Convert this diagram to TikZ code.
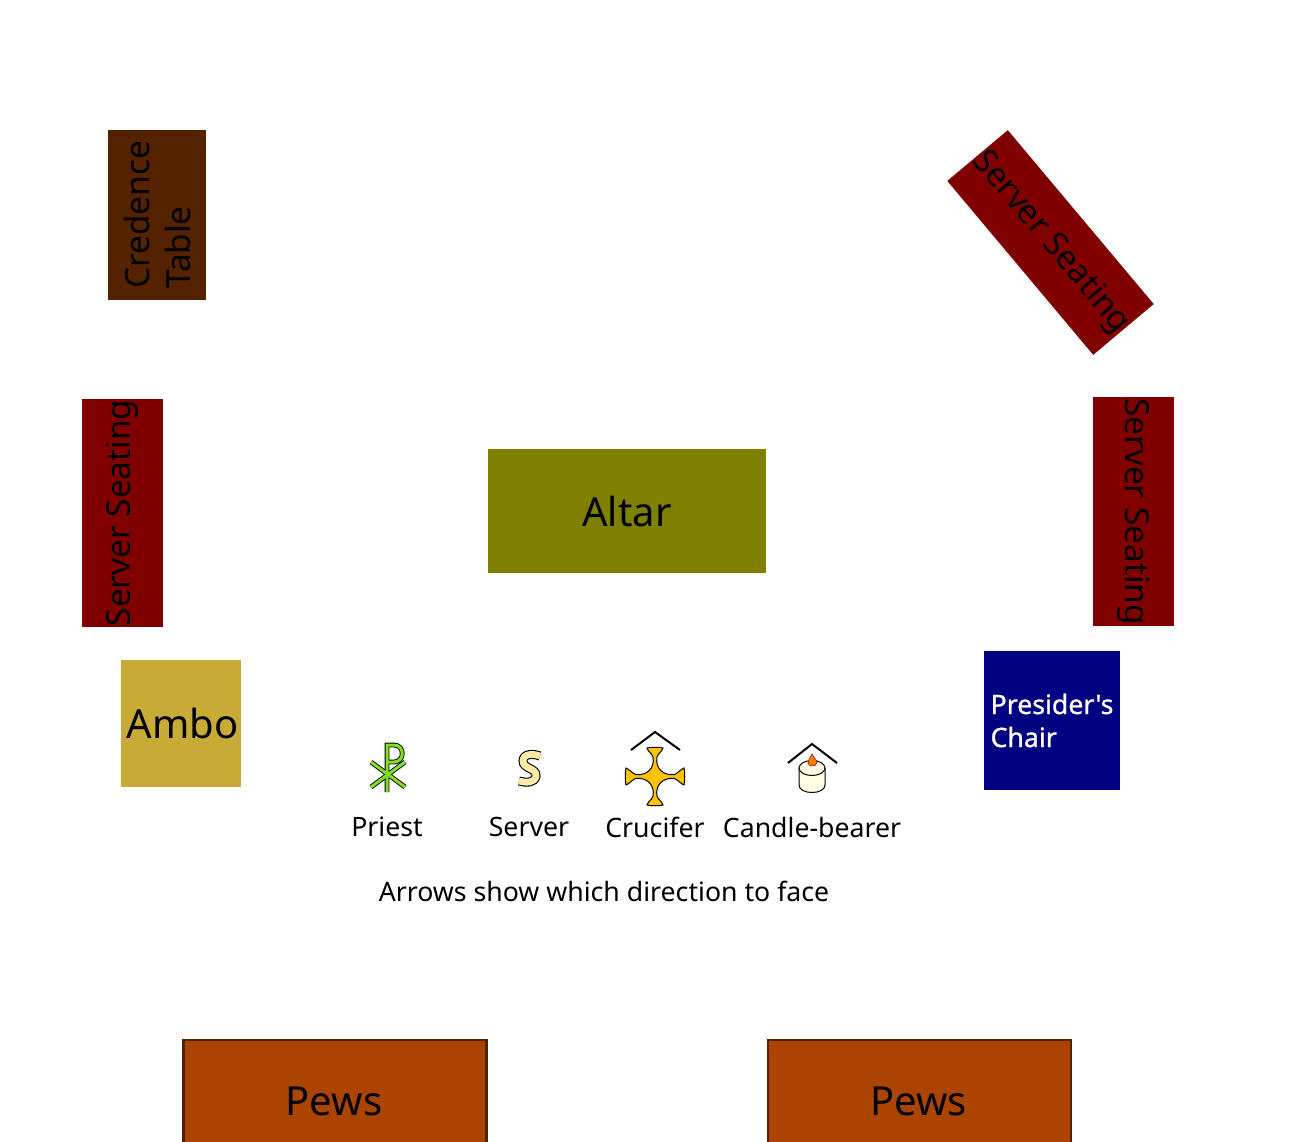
\documentclass[tikz,border=0pt]{standalone}
\usepackage{fontspec}
\setmainfont{Noto Sans}
\newfontfamily\chairfont[FakeBold=1]{Noto Sans}
\begin{document}
\begin{tikzpicture}[x=1pt,y=-1pt]
        \tikzstyle{furniture}=[rectangle,inner sep=0pt,text=black,align=center]
        \tikzstyle{bigtext}=[font=\fontsize{40}{44}\selectfont]
        \tikzstyle{midtext}=[font=\fontsize{33.33}{41}\selectfont]
        \tikzstyle{legend}=[font=\fontsize{26.67}{32}\selectfont,inner sep=0pt]
        \tikzstyle{roof}=[draw=black,line width=2pt,line join=miter]
        \tikzstyle{icon}=[draw=black,line width=1pt]
        \definecolor{credence}{RGB}{85,34,0}
        \definecolor{seating}{RGB}{128,0,0}
        \definecolor{altar}{RGB}{128,128,0}
        \definecolor{ambo}{RGB}{200,171,55}
        \definecolor{chair}{RGB}{0,0,128}
        \definecolor{pews}{RGB}{170,68,0}
        \definecolor{pewline}{RGB}{85,34,0}
        \definecolor{priest}{RGB}{127,224,34}
        \definecolor{server}{RGB}{255,236,170}
        \definecolor{crucifer}{RGB}{255,196,0}
        \definecolor{candle}{RGB}{255,252,225}
        \useasboundingbox (0,0) rectangle (1311,1141);
        % furniture
        \node [furniture,midtext,align=left,fill=credence,minimum width=170pt,minimum height=98pt,rotate=90] (credence) at (157,215) {Credence\\Table};
        \node [furniture,midtext,fill=seating,minimum width=228pt,minimum height=81pt,rotate=90] (seatleft) at (122,513) {Server Seating};
        \node [furniture,midtext,fill=seating,minimum width=229pt,minimum height=81pt,rotate=-90] (seatright) at (1133.5,511.5) {Server Seating};
        \node [furniture,midtext,fill=seating,minimum width=227pt,minimum height=79pt,rotate=-50] (seatcorner) at (1050.5,242.5) {Server Seating};
        \node [furniture,bigtext,fill=altar,minimum width=278pt,minimum height=124pt] (altar) at (627,511) {Altar};
        \node [furniture,bigtext,fill=ambo,minimum width=120pt,minimum height=127pt] (ambo) at (181,723.5) {\hspace{3pt}Ambo};
        \node [furniture,fill=chair,text=white,align=left,font=\chairfont\fontsize{26.67}{33}\selectfont,minimum width=136pt,minimum height=139pt] (chair) at (1052,720.5) {Presider's\\Chair};
        \node [furniture,bigtext,fill=pews,draw=pewline,line width=2.5pt,minimum width=303pt,minimum height=122pt] (pewsleft) at (335,1101) {Pews\hspace{2pt}};
        \node [furniture,bigtext,fill=pews,draw=pewline,line width=2.5pt,minimum width=303pt,minimum height=122pt] (pewsright) at (919.5,1101) {Pews\hspace{2pt}};
        % priest
        \foreach \w/\c in {4.8pt/black,3pt/priest}{
           \draw [line width=\w,\c] (387,792) -- (387,745) -- (394,745) .. controls (405,745) and (405,762) .. (394,762) -- (387,762);
           \draw [line width=\w,\c] (371,762) -- (405,787);
           \draw [line width=\w,\c] (405,762) -- (371,787);
        }
        % server
        \foreach \w/\c in {9pt/black,6.8pt/server}{
           \draw [line width=\w,\c] (540,756) .. controls (532,753) and (523,754) .. (523,761) .. controls (523,769) and (537,768) .. (536,776) .. controls (535,783) and (526,783) .. (519,781);
        }
        % crucifer
        \draw [roof] (631,750) -- (655,732) -- (680,750);
        \path [icon,fill=crucifer] (647,748) .. controls (651,747) and (659,747) .. (663,748)
           .. controls (662,752) and (658,753) .. (657,757)
           .. controls (655,768) and (663,776) .. (674.5,774.5)
           .. controls (678,773) and (681,769) .. (684,768)
           .. controls (685,773) and (685,780) .. (684,785)
           .. controls (681,784) and (678,780) .. (674.5,778.5)
           .. controls (663,777) and (655,785) .. (657,796)
           .. controls (658,800) and (662,801) .. (663,805)
           .. controls (659,806) and (651,806) .. (647,805)
           .. controls (648,801) and (652,800) .. (653,796)
           .. controls (655,785) and (647,777) .. (635.5,778.5)
           .. controls (632,780) and (629,784) .. (626,785)
           .. controls (625,780) and (625,773) .. (626,768)
           .. controls (629,769) and (632,773) .. (635.5,774.5)
           .. controls (647,776) and (655,768) .. (653,757)
           .. controls (652,753) and (648,752) .. (647,748) -- cycle;
        % candle-bearer
        \draw [roof] (788,763) -- (812,744) -- (837,763);
        \path [icon,fill=candle] (799,768) -- (799,785) .. controls (799,795) and (825,795) .. (825,785) -- (825,768);
        \path [icon,fill=candle] (812,768) ellipse [x radius=13,y radius=7.5];
        \path [fill=orange,draw=red!60!black,line width=.5pt] (812,754) .. controls (814,758) and (817,760) .. (817,763) .. controls (816,767) and (808,767) .. (808,763) .. controls (808,760) and (810,758) .. (812,754);
        % legend
        \node [legend] (priestlabel) at (387,827) {Priest};
        \node [legend] (serverlabel) at (529,827) {Server};
        \node [legend] (cruciferlabel) at (655,827) {Crucifer};
        \node [legend] (candlelabel) at (812,827) {Candle-bearer};
        \node [legend] (arrowslabel) at (604,891) {Arrows show which direction to face};
\end{tikzpicture}
\end{document}
